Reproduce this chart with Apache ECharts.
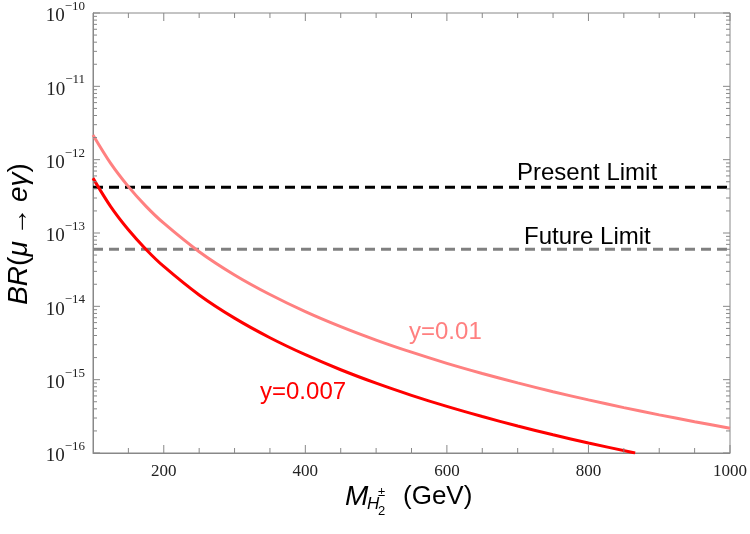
<!DOCTYPE html>
<html>
<head>
<meta charset="utf-8">
<script src="https://cdn.jsdelivr.net/npm/echarts@6/dist/echarts.min.js"></script>
<style>
  html, body { margin: 0; padding: 0; background: #fff; }
  #main { width: 750px; height: 534px; }
</style>
</head>
<body>
<div id="main"></div>
<script>
// values
const massLight = [100, 125, 150, 175, 200, 250, 300, 350, 400, 450, 500, 550, 600, 650, 700, 750, 800, 850, 900, 950, 1000];
const brLight = [2.17e-12, 8.89e-13, 4.29e-13, 2.31e-13, 1.36e-13, 5.56e-14, 2.68e-14, 1.45e-14, 8.48e-15, 5.29e-15, 3.47e-15, 2.37e-15, 1.67e-15, 1.215e-15, 9.04e-16, 6.86e-16, 5.3e-16, 4.16e-16, 3.31e-16, 2.67e-16, 2.17e-16];
const massDark = [100, 125, 150, 175, 200, 250, 300, 350, 400, 450, 500, 550, 600, 650, 700, 750, 800, 866];
const brDark = [5.6e-13, 2.29e-13, 1.106e-13, 5.97e-14, 3.5e-14, 1.43e-14, 6.9e-15, 3.73e-15, 2.19e-15, 1.366e-15, 8.96e-16, 6.12e-16, 4.32e-16, 3.14e-16, 2.33e-16, 1.77e-16, 1.37e-16, 1.0e-16];
const presentLimit = 4.2e-13;
const futureLimit = 6e-14;

// frame ticks
const xMajorTicks = [200, 400, 600, 800, 1000];
const xMinorTicks = [150, 250, 300, 350, 450, 500, 550, 650, 700, 750, 850, 900, 950];
const yDecades = [1e-16, 1e-15, 1e-14, 1e-13, 1e-12, 1e-11, 1e-10];
const yMinorTicks = [];
yDecades.slice(0, -1).forEach(d => {
  for (let k = 2; k <= 9; k++) yMinorTicks.push(k * d);
});

const zip = (xs, ys) => xs.map((x, i) => [x, ys[i]]);

const chart = echarts.init(document.getElementById('main'));

function renderTicks(params, api) {
  const x0 = api.coord([100, 1e-13])[0];
  const x1 = api.coord([1000, 1e-13])[0];
  const yb = api.coord([500, 1e-16])[1];
  const yt = api.coord([500, 1e-10])[1];
  const st = { stroke: '#888', lineWidth: 1 };
  const kids = [];
  const seg = (a, b, c, d) => kids.push({ type: 'line', shape: { x1: a, y1: b, x2: c, y2: d }, style: st });
  xMajorTicks.forEach(v => {
    const x = api.coord([v, 1e-13])[0];
    seg(x, yb, x, yb - 8);
    seg(x, yt, x, yt + 8);
  });
  xMinorTicks.forEach(v => {
    const x = api.coord([v, 1e-13])[0];
    seg(x, yb, x, yb - 5);
    seg(x, yt, x, yt + 5);
  });
  yDecades.forEach(v => {
    const y = api.coord([500, v])[1];
    seg(x0, y, x0 + 7, y);
    seg(x1, y, x1 - 7, y);
  });
  yMinorTicks.forEach(v => {
    const y = api.coord([500, v])[1];
    seg(x0, y, x0 + 4, y);
    seg(x1, y, x1 - 4, y);
  });
  return { type: 'group', children: kids };
}

const option = {
  animation: false,
  backgroundColor: '#fff',
  grid: { left: 93, right: 19, top: 13, bottom: 81, show: true, borderColor: '#888', borderWidth: 1 },
  xAxis: {
    type: 'value', min: 100, max: 1000, interval: 100,
    axisLine: { show: true, onZero: false, lineStyle: { color: '#888' } },
    axisTick: { show: false },
    splitLine: { show: false },
    axisLabel: {
      margin: 10, color: '#222', fontFamily: 'Liberation Serif', fontSize: 17,
      formatter: v => (v % 200 === 0 ? String(v) : '')
    }
  },
  yAxis: {
    type: 'log', logBase: 10, min: 1e-16, max: 1e-10, splitNumber: 6,
    axisLine: { show: true, lineStyle: { color: '#888' } },
    axisTick: { show: false },
    splitLine: { show: false },
    axisLabel: {
      margin: 8,
      formatter: v => {
        const e = Math.round(Math.log10(v));
        return '{b|10}{s|\u2212' + Math.abs(e) + '}';
      },
      rich: {
        b: { fontFamily: 'Liberation Serif', fontSize: 19, color: '#222', lineHeight: 26, verticalAlign: 'bottom' },
        s: { fontFamily: 'Liberation Serif', fontSize: 13, color: '#222', lineHeight: 14, verticalAlign: 'top' }
      }
    }
  },
  series: [
    {
      type: 'line', data: zip([100, 1000], [presentLimit, presentLimit]), symbol: 'none',
      lineStyle: { color: '#000', width: 3, type: [10, 6] }, z: 3
    },
    {
      type: 'line', data: zip([100, 1000], [futureLimit, futureLimit]), symbol: 'none',
      lineStyle: { color: '#808080', width: 3, type: [10, 6] }, z: 3
    },
    {
      type: 'line', data: zip(massLight, brLight), symbol: 'none', smooth: 0.3,
      lineStyle: { color: '#ff8080', width: 3 }, z: 4
    },
    {
      type: 'line', data: zip(massDark, brDark), symbol: 'none', smooth: 0.3,
      lineStyle: { color: '#ff0000', width: 3 }, z: 5
    },
    {
      type: 'custom', coordinateSystem: 'cartesian2d', data: [[500, 1e-13]],
      renderItem: renderTicks, clip: false, silent: true, z: 6
    }
  ],
  graphic: [
    { type: 'text', left: 517, top: 161, style: { text: 'Present Limit', font: '24px "Liberation Sans"', fill: '#000' } },
    { type: 'text', left: 524, top: 225, style: { text: 'Future Limit', font: '24px "Liberation Sans"', fill: '#000' } },
    { type: 'text', left: 409, top: 320, style: { text: 'y=0.01', font: '24px "Liberation Sans"', fill: '#ff8080' } },
    { type: 'text', left: 260, top: 380, style: { text: 'y=0.007', font: '24px "Liberation Sans"', fill: '#ff0000' } },
    {
      type: 'text', x: 19, y: 234, rotation: Math.PI / 2,
      style: {
        text: '{i|BR}{n|(}{i|\u03bc}{n|\u2009\u2192\u2009}{i|e\u03b3}{n|)}',
        align: 'center', verticalAlign: 'middle',
        rich: {
          i: { fontFamily: 'Liberation Sans', fontStyle: 'italic', fontSize: 28, fill: '#000' },
          n: { fontFamily: 'Liberation Sans', fontSize: 28, fill: '#000' }
        }
      }
    },
    { type: 'text', x: 345, y: 497, style: { text: 'M', font: 'italic 28px "Liberation Sans"', fill: '#000', verticalAlign: 'middle' } },
    { type: 'text', x: 367, y: 504, style: { text: 'H', font: 'italic 17px "Liberation Sans"', fill: '#000', verticalAlign: 'middle' } },
    { type: 'text', x: 378, y: 492, style: { text: '\u00b1', font: '13px "Liberation Sans"', fill: '#000', verticalAlign: 'middle' } },
    { type: 'text', x: 378, y: 511, style: { text: '2', font: '13px "Liberation Sans"', fill: '#000', verticalAlign: 'middle' } },
    { type: 'text', x: 403, y: 497, style: { text: '(GeV)', font: '26px "Liberation Sans"', fill: '#000', verticalAlign: 'middle' } }
  ]
};

chart.setOption(option);
</script>
</body>
</html>
